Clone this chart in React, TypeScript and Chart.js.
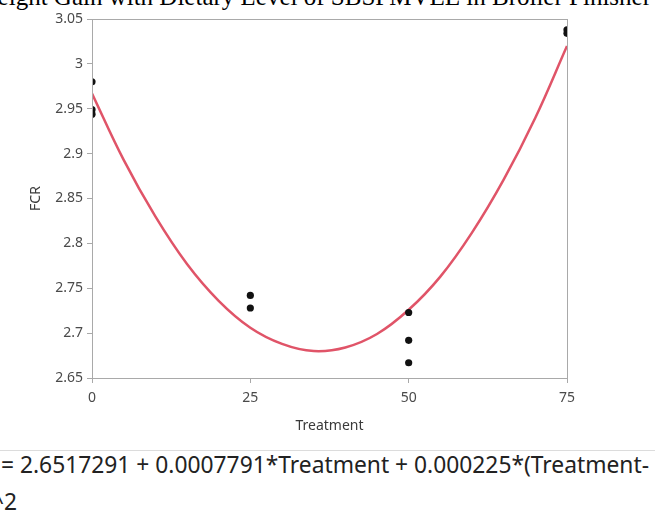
import React, { useEffect, useRef } from "react";
import { Chart, registerables } from "chart.js";

Chart.register(...registerables);

// Observed FCR values per treatment level
const observedTreatment = [0, 0, 0, 25, 25, 50, 50, 50, 75, 75];
const observedFCR = [2.98, 2.949, 2.944, 2.742, 2.728, 2.723, 2.692, 2.667, 3.038, 3.034];

// Fitted curve
const curveTreatment = [0, 5, 10, 15, 20, 25, 30, 35, 40, 45, 50, 55, 60, 65, 70, 75];
const curveFCR = [2.967, 2.893, 2.83, 2.777, 2.736, 2.706, 2.688, 2.68, 2.684, 2.699, 2.726, 2.763, 2.812, 2.871, 2.94, 3.02];

const xTicks = [0, 25, 50, 75];
const yTicks = [2.65, 2.7, 2.75, 2.8, 2.85, 2.9, 2.95, 3, 3.05];

const titleText = "Weight Gain with Dietary Level of SBSPMVEE in Broiler Finisher";
const equationLine1 = "= 2.6517291 + 0.0007791*Treatment + 0.000225*(Treatment-";
const equationLine2 = "^2";

const FRAME = "#a9a9a9";
const TICK_COLOR = "#4a4a4a";
const FONT = "'Noto Sans', 'Open Sans', sans-serif";

const framePlugin = {
  id: "frame",
  afterDraw(chart: any) {
    const { ctx, chartArea: a } = chart;
    ctx.save();
    ctx.strokeStyle = FRAME;
    ctx.lineWidth = 1;
    ctx.strokeRect(Math.round(a.left) + 0.5, Math.round(a.top) + 0.5, Math.round(a.width), Math.round(a.height));
    ctx.restore();
  },
};

export default function App() {
  const ref = useRef<HTMLCanvasElement | null>(null);

  useEffect(() => {
    if (!ref.current) return;
    const chart = new Chart(ref.current, {
      type: "scatter",
      data: {
        datasets: [
          {
            type: "line",
            label: "Fit",
            data: curveTreatment.map((x, i) => ({ x, y: curveFCR[i] })),
            borderColor: "#e05468",
            borderWidth: 2.5,
            pointRadius: 0,
            tension: 0.4,
            fill: false,
            order: 2,
          } as any,
          {
            label: "FCR",
            data: observedTreatment.map((x, i) => ({ x, y: observedFCR[i] })),
            backgroundColor: "#111111",
            borderColor: "#111111",
            pointRadius: 3.6,
            pointBorderWidth: 0,
            order: 1,
          },
        ],
      },
      options: {
        responsive: false,
        animation: false,
        layout: { padding: { top: 19, right: 88, bottom: 0, left: 0 } },
        plugins: {
          legend: { display: false },
          tooltip: { enabled: false },
        },
        scales: {
          x: {
            type: "linear",
            min: 0,
            max: 75,
            afterBuildTicks: (s: any) => {
              s.ticks = xTicks.map((v) => ({ value: v }));
            },
            afterFit: (s: any) => {
              s.height = 62;
            },
            grid: { display: true, drawOnChartArea: false, drawTicks: true, tickLength: 5, color: FRAME },
            border: { display: true, color: FRAME },
            ticks: {
              padding: 7,
              color: TICK_COLOR,
              font: { family: FONT, size: 14 },
              maxRotation: 0,
              callback: (v: any) => String(v),
            },
            title: {
              display: true,
              text: "Treatment",
              color: "#3a3a3a",
              font: { family: FONT, size: 14 },
              padding: { top: 0, bottom: 6 },
            },
          },
          y: {
            type: "linear",
            min: 2.65,
            max: 3.05,
            afterBuildTicks: (s: any) => {
              s.ticks = yTicks.map((v) => ({ value: v }));
            },
            afterFit: (s: any) => {
              s.width = 92;
            },
            grid: { display: true, drawOnChartArea: false, drawTicks: true, tickLength: 5, color: FRAME },
            border: { display: true, color: FRAME },
            ticks: {
              padding: 4,
              color: TICK_COLOR,
              font: { family: FONT, size: 14 },
              callback: (v: any) => String(Number(Number(v).toFixed(2))),
            },
            title: {
              display: true,
              text: "FCR",
              color: "#3a3a3a",
              font: { family: FONT, size: 14 },
              padding: { top: 28, bottom: 0 },
            },
          },
        },
      },
      plugins: [framePlugin],
    });
    return () => chart.destroy();
  }, []);

  return (
    <div
      style={{
        position: "fixed",
        left: 0,
        top: 0,
        width: 655,
        height: 516,
        overflow: "hidden",
        background: "#ffffff",
      }}
    >
      <div
        style={{
          position: "absolute",
          left: -24,
          top: -16,
          fontFamily: "'Liberation Serif', 'Times New Roman', serif",
          fontSize: 25,
          lineHeight: "25px",
          whiteSpace: "nowrap",
          color: "#000",
        }}
      >
        {titleText}
      </div>
      <canvas ref={ref} width={655} height={440} style={{ position: "absolute", left: 0, top: 0, width: 655, height: 440 }} />
      <div style={{ position: "absolute", left: 0, top: 450, width: 655, height: 1, background: "#dcdcdc" }} />
      <div
        style={{
          position: "absolute",
          left: 1,
          top: 446,
          fontFamily: FONT,
          fontSize: 22.8,
          lineHeight: "37px",
          whiteSpace: "nowrap",
          color: "#222",
        }}
      >
        <div>{equationLine1}</div>
        <div style={{ marginLeft: -10 }}>{equationLine2}</div>
      </div>
    </div>
  );
}
